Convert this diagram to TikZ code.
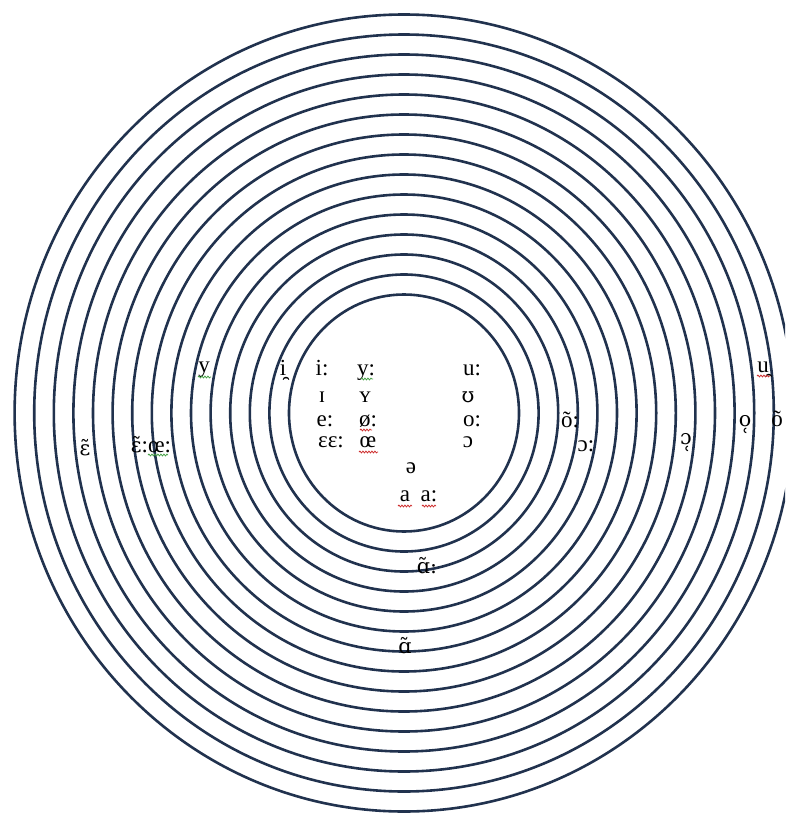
\documentclass[tikz,border=0pt]{standalone}
\usepackage{fontspec}
\setmainfont{Liberation Serif}
\newfontfamily\markfont[Scale=0.9]{DejaVu Serif}
\usetikzlibrary{decorations.pathmorphing}
\definecolor{ringblue}{RGB}{33,50,78}
\definecolor{spellred}{RGB}{205,45,45}
\definecolor{spellgreen}{RGB}{70,160,70}

\begin{document}
\begin{tikzpicture}[x=1pt, y=-1pt,
        ring/.style={draw=ringblue, line width=2.6pt},
        ipa/.style={font=\fontsize{23}{23}\selectfont, inner sep=0pt, anchor=base},
        ipamark/.style={ipa, font=\fontsize{23}{23}\selectfont\markfont},
        squiggle/.style={line width=0.8pt, decorate, decoration={snake, amplitude=0.9pt, segment length=3pt}}]
        \clip (0,0) rectangle (785,814);
        % RINGS (15)
        \foreach \k in {0,...,14} {
            \draw[ring] (404,413) ellipse [x radius={115+19.6*\k}, y radius={118.5+20*\k}];
        }
        % Inner chart
        \node[ipa] (iglide) at (283,375) {i̯};
        \node[ipa] (ilong) at (322,375) {i:};
        \node[ipa] (ylong) at (366,375) {y:};
        \node[ipa] (ulong) at (472,375) {u:};
        \node[ipa] (ismall) at (322,402) {ɪ};
        \node[ipa] (ysmall) at (365,402) {ʏ};
        \node[ipamark] (usmall) at (468,402) {ʊ};
        \node[ipa] (elong) at (325,426) {e:};
        \node[ipa] (oslash) at (368,426) {ø:};
        \node[ipa] (olong) at (472,426) {o:};
        \node[ipa] (eopen) at (331,447) {ɛɛ:};
        \node[ipa] (oe) at (368,447) {œ};
        \node[ipa] (oopen) at (468,447) {ɔ};
        \node[ipa] (schwa) at (411,473) {ə};
        \node[ipa] (ashort) at (405,501) {a};
        \node[ipa] (along) at (429,501) {a:};
        % Outer rings, left
        \node[ipa] (yleft) at (204,372) {y};
        \node[ipamark] (enasal) at (85,455) {ɛ̃};
        \node[ipa] (enasallong) at (151,452) {{\markfont ɛ̃}:œ:};
        % Outer rings, right
        \node[ipa] (uglide) at (763,372) {u̯};
        \node[ipa] (onasallong) at (570,427) {õ:};
        \node[ipa] (oopenlong) at (586,451) {ɔ:};
        \node[ipamark] (oopenring) at (686,444) {ɔ̜};
        \node[ipamark] (oring) at (745,426) {o̜};
        \node[ipa] (onasal) at (777,426) {õ};
        % Outer rings, bottom
        \node[ipamark] (anasallong) at (427,573) {ɑ̃:};
        \node[ipamark] (anasal) at (405,653) {ɑ̃};
        % Spell-check marks
        \draw[squiggle, spellgreen] (361,379) -- (373,379);
        \draw[squiggle, spellgreen] (198,377) -- (211,377);
        \draw[squiggle, spellgreen] (148,455) -- (168,455);
        \draw[squiggle, spellred] (360,430) -- (372,430);
        \draw[squiggle, spellred] (359,452) -- (378,452);
        \draw[squiggle, spellred] (398,506) -- (412,506);
        \draw[squiggle, spellred] (422,506) -- (436,506);
        \draw[squiggle, spellred] (757,376) -- (770,376);
    \end{tikzpicture}
\end{document}
